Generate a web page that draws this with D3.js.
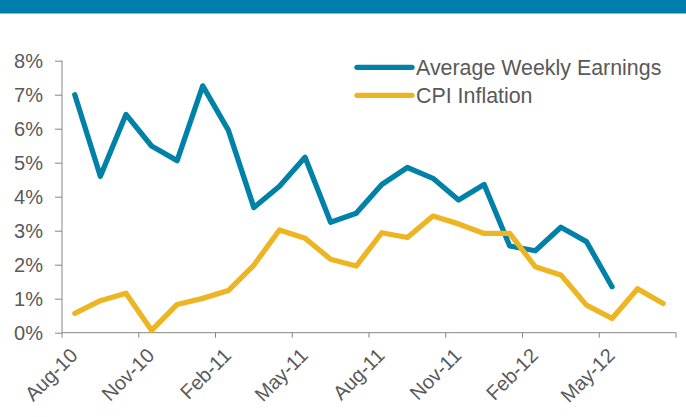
<!DOCTYPE html>
<html>
<head>
<meta charset="utf-8">
<script src="https://cdn.jsdelivr.net/npm/d3@7"></script>
<style>
body{margin:0;background:#fff;}
text{font-family:"Liberation Sans",Arial,sans-serif;fill:#595959;}
</style>
</head>
<body>
<svg width="686" height="417"></svg>
<script>
var months = ["Aug-10","Sep-10","Oct-10","Nov-10","Dec-10","Jan-11","Feb-11","Mar-11","Apr-11","May-11","Jun-11","Jul-11",
	"Aug-11","Sep-11","Oct-11","Nov-11","Dec-11","Jan-12","Feb-12","Mar-12","Apr-12","May-12","Jun-12","Jul-12"];
var earnings = [7.0,4.6,6.42,5.49,5.06,7.26,5.96,3.68,4.31,5.16,3.25,3.51,4.36,4.86,4.54,3.9,4.36,2.55,2.41,3.1,2.68,1.35];
var cpi = [0.57,0.94,1.16,0.07,0.83,1.01,1.24,1.99,3.02,2.78,2.16,1.96,2.94,2.8,3.43,3.2,2.92,2.92,1.94,1.7,0.81,0.42,1.29,0.86];
var yTicks = [0,1,2,3,4,5,6,7,8];
var series = [
	{name:"Average Weekly Earnings", values:earnings, color:"#0081a7"},
	{name:"CPI Inflation", values:cpi, color:"#ecb521"}
];

var svg = d3.select("svg");
var m = {top:60.7, right:10, bottom:84.3, left:62};
var W = 686, H = 417;

// top band
svg.append("rect").attr("x",0).attr("y",0).attr("width",W).attr("height",13.5).attr("fill","#007fad");

var x = d3.scaleBand().domain(months).range([m.left, 676]);
var y = d3.scaleLinear().domain([0,8]).range([H - m.bottom, m.top]);
var cx = function(i){ return x(months[i]) + x.bandwidth()/2; };

// y axis
var yAxis = d3.axisLeft(y).tickValues(yTicks).tickSize(7).tickPadding(12)
	.tickFormat(function(d){ return d + "%"; });
var yg = svg.append("g").attr("transform","translate(" + m.left + ",0)").call(yAxis);
yg.select(".domain").attr("d","M" + 0 + "," + y(8) + "V" + y(0));

// x axis: ticks every 3 months on category boundaries
var xg = svg.append("g").attr("transform","translate(0," + y(0) + ")");
xg.append("line").attr("x1",m.left).attr("x2",676).attr("y1",0).attr("y2",0);
var tickIdx = d3.range(0, 25, 3);
xg.selectAll(".xt").data(tickIdx).enter().append("line")
	.attr("x1", function(i){ return m.left + i * x.step(); })
	.attr("x2", function(i){ return m.left + i * x.step(); })
	.attr("y1",0).attr("y2",5);
xg.selectAll(".xl").data(d3.range(0, 24, 3)).enter().append("text")
	.attr("transform", function(i){ return "translate(" + (cx(i) + 4) + ",24) rotate(-45)"; })
	.attr("text-anchor","end")
	.style("font-size","20px")
	.text(function(i){ return months[i]; });

svg.selectAll(".domain, .tick line, g line").attr("stroke","#868686").attr("stroke-width",1);
yg.selectAll("text").style("font-size","20px").attr("fill","#595959");

// lines
var line = d3.line().x(function(d,i){ return cx(i); }).y(function(d){ return y(d); });
svg.selectAll(".series").data(series).enter().append("path")
	.attr("d", function(s){ return line(s.values); })
	.attr("fill","none")
	.attr("stroke", function(s){ return s.color; })
	.attr("stroke-width",5.3)
	.attr("stroke-linejoin","round")
	.attr("stroke-linecap","round");

// legend
var lg = svg.append("g").attr("transform","translate(357,67.3)");
var li = lg.selectAll("g").data(series).enter().append("g")
	.attr("transform", function(d,i){ return "translate(0," + i*28 + ")"; });
li.append("line").attr("x1",0).attr("x2",55).attr("y1",0).attr("y2",0)
	.attr("stroke", function(d){ return d.color; }).attr("stroke-width",5.3).attr("stroke-linecap","round");
li.append("text").attr("x",59).attr("dy","0.36em").style("font-size","21.4px").text(function(d){ return d.name; });
</script>
</body>
</html>
